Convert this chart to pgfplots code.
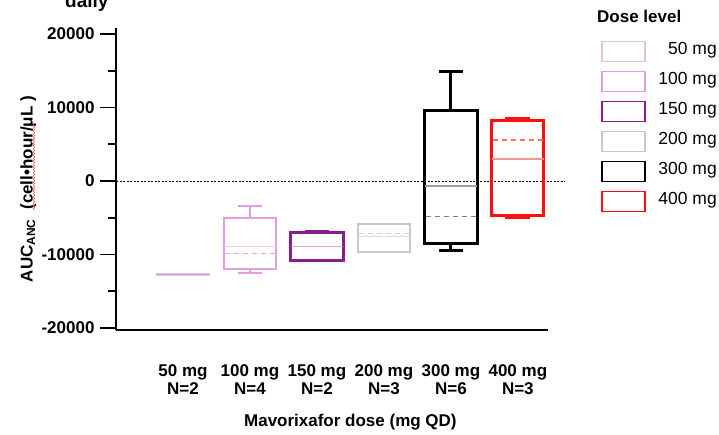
\documentclass[border=0pt]{standalone}
\usepackage{pgfplots}
\pgfplotsset{compat=1.18}
\usepgfplotslibrary{statistics}
\usepackage{fontspec}
\setmainfont{Liberation Sans}
\usetikzlibrary{decorations.pathmorphing}
\definecolor{cA}{HTML}{E2C0E2}
\definecolor{cAm}{HTML}{D4A4D4}
\definecolor{cB}{HTML}{E49CE4}
\definecolor{cBm}{HTML}{F0C8F0}
\definecolor{cBd}{HTML}{E6A6E6}
\definecolor{cC}{HTML}{8C1C8C}
\definecolor{cCm}{HTML}{E0A8E0}
\definecolor{cD}{HTML}{C8C8C8}
\definecolor{cDm}{HTML}{DCDCDC}
\definecolor{cDd}{HTML}{D0D0D0}
\definecolor{cE}{HTML}{000000}
\definecolor{cEm}{HTML}{A0A0A0}
\definecolor{cEd}{HTML}{808080}
\definecolor{cF}{HTML}{FF1010}
\definecolor{cFm}{HTML}{FF9090}
\definecolor{cFd}{HTML}{FF7070}
\newcommand{\tickfont}{\fontsize{17}{18}\selectfont\bfseries}
\newcommand{\legfont}{\fontsize{17.5}{18}\selectfont}
\begin{document}
\begin{tikzpicture}
\path[use as bounding box] (0pt,0pt) rectangle (719pt,435pt);
% partial title at top (cut off by the page edge, as in the reference)
\node[anchor=base west, inner sep=0pt, font=\fontsize{19}{21}\selectfont\bfseries] at (65pt,427pt) {daily};
\begin{axis}[
  at={(116pt,105pt)}, anchor=south west,
  scale only axis, width=432pt, height=302pt,
  xmin=0, xmax=6.45, ymin=-20270, ymax=20820,
  scaled y ticks=false,
  axis lines=left,
  axis line style={-, line width=2pt, black},
  clip=false,
  xtick={1,2,3,4,5,6},
  xticklabels={{50 mg\\N=2},{100 mg\\N=4},{150 mg\\N=2},{200 mg\\N=3},{300 mg\\N=6},{400 mg\\N=3}},
  xticklabel style={align=center, font=\tickfont, yshift=-15pt},
  xtick style={draw=none},
  ytick={-20000,-10000,0,10000,20000},
  yticklabels={-20000,-10000,0,10000,20000},
  minor ytick={-15000,-5000,5000,15000},
  yticklabel style={font=\tickfont, xshift=-2pt},
  tick align=outside,
  major tick length=16pt,
  minor tick length=8pt,
  ytick style={line width=1.6pt, black},
  minor tick style={line width=1.6pt, black},
  xlabel={Mavorixafor dose (mg QD)},
  xlabel style={at={(rel axis cs:0.5426,0)}, anchor=base, yshift=-97pt, font=\fontsize{17}{18}\selectfont\bfseries},
  ylabel={AUC\textsubscript{ANC}\ \ (cell•hour/μL )},
  ylabel style={at={(rel axis cs:-0.2031,0.4665)}, anchor=center, font=\fontsize{17}{18}\selectfont\bfseries},
  boxplot/draw direction=y,
  boxplot/box extend=0.78,
  boxplot/whisker extend=0.37,
]
% zero reference line
\addplot[black, line width=0.8pt, dash pattern=on 2pt off 1.5pt] coordinates {(0,0) (6.7,0)};
% 50 mg
\addplot[draw=cA, line width=1.5pt, boxplot/every median/.style={draw=cAm, line width=1.5pt},
  boxplot prepared={lower whisker=-12800, lower quartile=-12760, median=-12700, upper quartile=-12640, upper whisker=-12600, draw position=1}] coordinates {};
% 100 mg
\addplot[draw=cB, line width=2pt, boxplot/every median/.style={draw=cBm, line width=1.3pt},
  boxplot prepared={lower whisker=-12560, lower quartile=-11970, median=-8940, upper quartile=-5080, upper whisker=-3360, draw position=2}] coordinates {};
\addplot[cBd, line width=1.3pt, dash pattern=on 5pt off 4pt] coordinates {(1.63,-9840) (2.37,-9840)};
% 150 mg
\addplot[draw=cC, line width=3pt, boxplot/every median/.style={draw=cCm, line width=1.3pt},
  boxplot prepared={lower whisker=-10880, lower quartile=-10750, median=-8940, upper quartile=-7030, upper whisker=-6900, draw position=3}] coordinates {};
% 200 mg
\addplot[draw=cD, line width=2pt, boxplot/every median/.style={draw=cDm, line width=1.3pt},
  boxplot prepared={lower whisker=-9700, lower quartile=-9620, median=-7580, upper quartile=-5890, upper whisker=-5800, draw position=4}] coordinates {};
\addplot[cDd, line width=1.3pt, dash pattern=on 5pt off 4pt] coordinates {(3.63,-7120) (4.37,-7120)};
% 300 mg
\addplot[draw=cE, line width=3pt, boxplot/every median/.style={draw=cEm, line width=1.3pt},
  boxplot prepared={lower whisker=-9390, lower quartile=-8480, median=-680, upper quartile=9660, upper whisker=14870, draw position=5}] coordinates {};
\addplot[cEd, line width=1.3pt, dash pattern=on 5pt off 4pt] coordinates {(4.63,-4860) (5.37,-4860)};
% 400 mg
\addplot[draw=cF, line width=3pt, boxplot/every median/.style={draw=cFm, line width=1.3pt},
  boxplot prepared={lower whisker=-4990, lower quartile=-4720, median=2990, upper quartile=8300, upper whisker=8530, draw position=6}] coordinates {};
\addplot[cFd, line width=1.3pt, dash pattern=on 5pt off 4pt] coordinates {(5.63,5580) (6.37,5580)};
\end{axis}
% spell-check squiggle under the unit
\draw[red!65, line width=0.6pt, decorate, decoration={snake, amplitude=0.8pt, segment length=3pt}] (34pt,225pt) -- (34pt,312pt);
% legend
\node[anchor=base west, inner sep=0pt, font=\fontsize{17}{19}\selectfont\bfseries] at (597pt,412.5pt) {Dose level};
\foreach \i/\c/\lab in {0/cA/50 mg,1/cB/100 mg,2/cC/150 mg,3/cD/200 mg,4/cE/300 mg,5/cF/400 mg}{
  \pgfmathsetmacro{\ytop}{435-41.7-30*\i}
  \draw[\c, line width=1.6pt] (602pt,\ytop pt) rectangle (645pt,\ytop pt-20pt);
  \node[anchor=base east, inner sep=0pt, font=\legfont] at (717pt,\ytop pt-13pt) {\lab};
}
\end{tikzpicture}
\end{document}
